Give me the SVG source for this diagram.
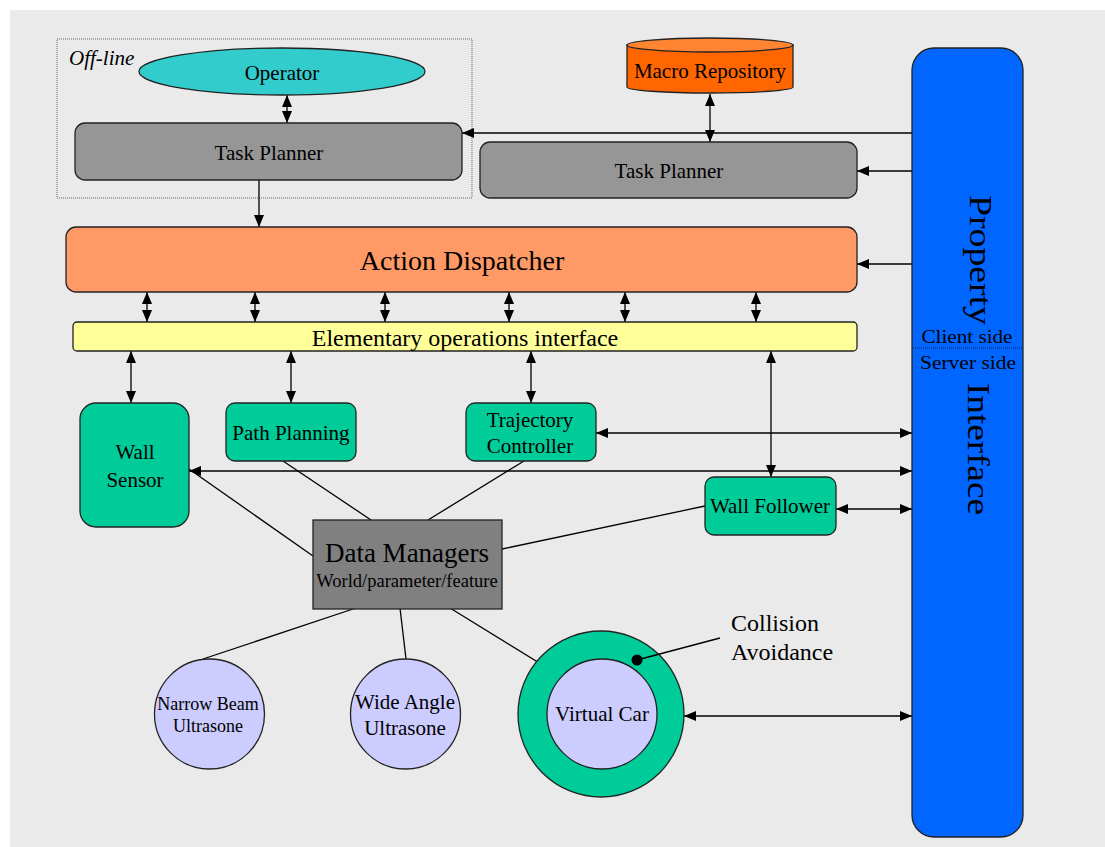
<svg xmlns="http://www.w3.org/2000/svg" width="1105" height="847" viewBox="0 0 1105 847">
  <style>
    text { font-family: "Liberation Serif", "Times New Roman", serif; fill: #000; }
    .lbl { font-size: 21px; text-anchor: middle; }
    .box { stroke: #222; stroke-width: 1.3; }
    .green { fill: #00CC99; }
    .grey { fill: #969696; }
    .lilac { fill: #CCCCFF; }
    .wire { stroke: #000; stroke-width: 1.3; fill: none; }
    .arr { marker-end: url(#head); }
    .dbl { marker-start: url(#head); marker-end: url(#head); }
  </style>
  <defs>
    <marker id="head" viewBox="0 0 12 10" refX="12" refY="5" markerWidth="12" markerHeight="10" markerUnits="userSpaceOnUse" orient="auto-start-reverse">
      <path d="M0,0 L12,5 L0,10 z" fill="#000"/>
    </marker>
  </defs>

  <!-- page -->
  <rect x="0" y="0" width="1105" height="847" fill="#fff"/>
  <rect x="10" y="10" width="1095" height="837" fill="#EAEAEA"/>

  <!-- off-line region -->
  <g id="offline">
    <rect x="57" y="39" width="415" height="159" fill="none" stroke="#666" stroke-width="1" stroke-dasharray="1,1"/>
    <text x="69" y="65" font-size="21" font-style="italic">Off-line</text>
  </g>

  <!-- connectors -->
  <g id="connectors">
    <line class="wire dbl" x1="287" y1="95" x2="287" y2="123"/>
    <line class="wire arr" x1="259" y1="180" x2="259" y2="227"/>
    <line class="wire arr" x1="912" y1="133" x2="462" y2="133"/>
    <line class="wire dbl" x1="710" y1="94" x2="710" y2="142"/>
    <line class="wire arr" x1="912" y1="171" x2="857" y2="171"/>
    <line class="wire arr" x1="912" y1="264" x2="857" y2="264"/>

    <line class="wire dbl" x1="147" y1="292" x2="147" y2="322"/>
    <line class="wire dbl" x1="255" y1="292" x2="255" y2="322"/>
    <line class="wire dbl" x1="385" y1="292" x2="385" y2="322"/>
    <line class="wire dbl" x1="509" y1="292" x2="509" y2="322"/>
    <line class="wire dbl" x1="625" y1="292" x2="625" y2="322"/>
    <line class="wire dbl" x1="756" y1="292" x2="756" y2="322"/>

    <line class="wire dbl" x1="131" y1="351" x2="131" y2="403"/>
    <line class="wire dbl" x1="291" y1="351" x2="291" y2="403"/>
    <line class="wire dbl" x1="531" y1="351" x2="531" y2="403"/>
    <line class="wire dbl" x1="771" y1="351" x2="771" y2="477"/>

    <line class="wire dbl" x1="596" y1="433" x2="912" y2="433"/>
    <line class="wire dbl" x1="189" y1="471" x2="912" y2="471"/>
    <line class="wire dbl" x1="836" y1="509" x2="912" y2="509"/>
    <line class="wire dbl" x1="684" y1="716" x2="912" y2="716"/>

    <line class="wire" x1="189" y1="469" x2="313" y2="556"/>
    <line class="wire" x1="283" y1="461" x2="371" y2="520"/>
    <line class="wire" x1="524" y1="461" x2="428" y2="520"/>
    <line class="wire" x1="705" y1="506" x2="502" y2="549"/>
    <line class="wire" x1="356" y1="608" x2="203" y2="659"/>
    <line class="wire" x1="400" y1="608" x2="406" y2="659"/>
    <line class="wire" x1="450" y1="608" x2="562" y2="677"/>
  </g>

  <g id="operator">
    <ellipse class="box" cx="282" cy="71.5" rx="143" ry="23.5" fill="#33CCCC"/>
    <text class="lbl" x="282" y="80">Operator</text>
  </g>

  <g id="task-planner-offline">
    <rect class="box grey" x="75" y="123" width="387" height="57" rx="10"/>
    <text class="lbl" x="269" y="160">Task Planner</text>
  </g>

  <g id="macro-repository">
    <path class="box" d="M627,45 L627,87 A83,6 0 0 0 793,87 L793,45 Z" fill="#FF6600"/>
    <ellipse class="box" cx="710" cy="45" rx="83" ry="7" fill="#FF8533"/>
    <text class="lbl" x="710" y="78">Macro Repository</text>
  </g>

  <g id="task-planner">
    <rect class="box grey" x="480" y="142" width="377" height="56" rx="10"/>
    <text class="lbl" x="669" y="178">Task Planner</text>
  </g>

  <g id="action-dispatcher">
    <rect class="box" x="66" y="227" width="791" height="65" rx="10" fill="#FF9966"/>
    <text x="462" y="270" font-size="28" text-anchor="middle">Action Dispatcher</text>
  </g>

  <g id="elementary-operations">
    <rect class="box" x="73" y="322" width="784" height="29" rx="4" fill="#FFFF99"/>
    <text x="465" y="346" font-size="24" text-anchor="middle">Elementary operations interface</text>
  </g>

  <g id="wall-sensor">
    <rect class="box green" x="80" y="403" width="109" height="124" rx="16"/>
    <text class="lbl" x="135" y="459">Wall</text>
    <text class="lbl" x="135" y="487">Sensor</text>
  </g>

  <g id="path-planning">
    <rect class="box green" x="226" y="403" width="130" height="58" rx="9"/>
    <text class="lbl" x="291" y="440">Path Planning</text>
  </g>

  <g id="trajectory-controller">
    <rect class="box green" x="466" y="403" width="130" height="58" rx="9"/>
    <text class="lbl" x="530" y="427">Trajectory</text>
    <text class="lbl" x="530" y="453">Controller</text>
  </g>

  <g id="wall-follower">
    <rect class="box green" x="705" y="477" width="131" height="58" rx="9"/>
    <text class="lbl" x="770" y="513">Wall Follower</text>
  </g>

  <g id="data-managers">
    <rect class="box" x="313" y="520" width="189" height="89" fill="#808080"/>
    <text x="407" y="562" font-size="27" text-anchor="middle">Data Managers</text>
    <text x="407" y="587" font-size="18.5" text-anchor="middle">World/parameter/feature</text>
  </g>

  <g id="narrow-beam">
    <circle class="box lilac" cx="209.5" cy="714" r="55"/>
    <text x="208" y="710" font-size="18" text-anchor="middle">Narrow Beam</text>
    <text x="208" y="732" font-size="18" text-anchor="middle">Ultrasone</text>
  </g>

  <g id="wide-angle">
    <circle class="box lilac" cx="405.5" cy="714" r="55"/>
    <text class="lbl" x="405" y="709">Wide Angle</text>
    <text class="lbl" x="405" y="735">Ultrasone</text>
  </g>

  <g id="virtual-car">
    <circle class="box green" cx="601" cy="714" r="83"/>
    <circle class="box lilac" cx="602" cy="714" r="55"/>
    <text class="lbl" x="602" y="721">Virtual Car</text>
  </g>

  <g id="collision-avoidance">
    <line class="wire" x1="637" y1="660" x2="720" y2="638"/>
    <circle cx="637" cy="660" r="5.5" fill="#000"/>
    <text x="731" y="631" font-size="24">Collision</text>
    <text x="731" y="660" font-size="24">Avoidance</text>
  </g>

  <g id="property-interface">
    <rect class="box" x="912" y="48" width="111" height="789" rx="22" fill="#0066FF"/>
    <line x1="913" y1="348" x2="1022" y2="348" stroke="#001a66" stroke-width="1" stroke-dasharray="1,1"/>
    <text transform="translate(970,195) rotate(90)" font-size="31" textLength="130" lengthAdjust="spacingAndGlyphs">Property</text>
    <text transform="translate(968,383) rotate(90)" font-size="31" textLength="132" lengthAdjust="spacingAndGlyphs">Interface</text>
    <text x="967" y="343" font-size="18" text-anchor="middle" textLength="91" lengthAdjust="spacingAndGlyphs">Client side</text>
    <text x="968" y="369" font-size="18" text-anchor="middle" textLength="96" lengthAdjust="spacingAndGlyphs">Server side</text>
  </g>
</svg>
